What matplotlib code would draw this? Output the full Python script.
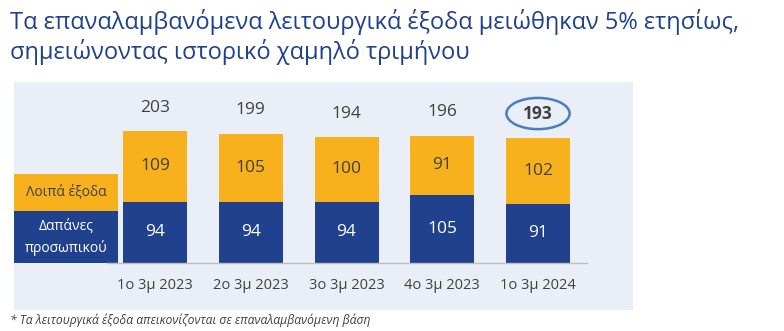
import matplotlib.pyplot as plt
from matplotlib.patches import Rectangle, Ellipse

plt.rcParams['font.family'] = ['Open Sans', 'DejaVu Sans']

# Λειτουργικά έξοδα ανά τρίμηνο (εκ. €)
quarters = ['1ο 3μ 2023', '2ο 3μ 2023', '3ο 3μ 2023', '4ο 3μ 2023', '1ο 3μ 2024']
staff = [94, 94, 94, 105, 91]
other = [109, 105, 100, 91, 102]
totals = [203, 199, 194, 196, 193]

blue = '#1F418E'
yellow = '#F6B11C'
panel = '#E9EEF7'
text_gray = '#404040'

fig = plt.figure(figsize=(7.84, 3.31), dpi=100)
W, H = 784, 331

def px_axes(x0, y0, x1, y1):
    return [x0 / W, 1 - y1 / H, (x1 - x0) / W, (y1 - y0) / H]

ax = fig.add_axes(px_axes(14, 82, 633, 310))
ax.set_facecolor(panel)
for s in ax.spines.values():
    s.set_visible(False)
ax.set_xticks([])
ax.set_yticks([])
ax.set_xlim(-1.473, 4.992)
ax.set_ylim(-72.3, 278.5)

x = list(range(len(quarters)))
ax.bar(x, staff, width=0.668, color=blue, zorder=2)
ax.bar(x, other, width=0.668, bottom=staff, color=yellow, zorder=2)

for i in x:
    ax.text(i, staff[i] / 2, str(staff[i]), ha='center', va='center',
            color='white', fontsize=12.5)
    ax.text(i, staff[i] + other[i] / 2, str(other[i]), ha='center', va='center',
            color=text_gray, fontsize=12.5)
    last = i == len(quarters) - 1
    ax.text(i, totals[i] + 36, str(totals[i]), ha='center', va='center',
            color=text_gray, fontsize=12.5, fontweight='bold' if last else 'normal')
    ax.text(i, -34, quarters[i], ha='center', va='center',
            color=text_gray, fontsize=10.5)

# κύκλος γύρω από το χαμηλό τριμήνου
ax.add_patch(Ellipse((4, totals[-1] + 37), 0.66, 48, angle=0, fill=False,
                     edgecolor='#4A7EBF', linewidth=1.8, zorder=3))

# γραμμή βάσης
ax.plot([-0.501, 4.51], [0, 0], color='#BFBFBF', linewidth=1, zorder=3)

# υπόμνημα αριστερά
ax.add_patch(Rectangle((-1.473, 80), 1.087, 57, facecolor=yellow, edgecolor='none', zorder=2))
ax.add_patch(Rectangle((-1.473, 0), 1.087, 80, facecolor=blue, edgecolor='none', zorder=2))
ax.text(-0.93, 108.5, 'Λοιπά έξοδα', ha='center', va='center', color=text_gray, fontsize=10)
ax.text(-0.93, 40, 'Δαπάνες\nπροσωπικού', ha='center', va='center', color='white',
        fontsize=10, linespacing=1.5)

fig.text(10 / W, 1 - 22 / H, 'Τα επαναλαμβανόμενα λειτουργικά έξοδα μειώθηκαν 5% ετησίως,',
         ha='left', va='center', color='#1F418E', fontsize=17)
fig.text(10 / W, 1 - 52 / H, 'σημειώνοντας ιστορικό χαμηλό τριμήνου',
         ha='left', va='center', color='#1F418E', fontsize=17)
fig.text(10 / W, 1 - 320 / H, '* Τα λειτουργικά έξοδα απεικονίζονται σε επαναλαμβανόμενη βάση',
         ha='left', va='center', color=text_gray, fontsize=8.7, style='italic')

fig.savefig('out.png', dpi=100)
